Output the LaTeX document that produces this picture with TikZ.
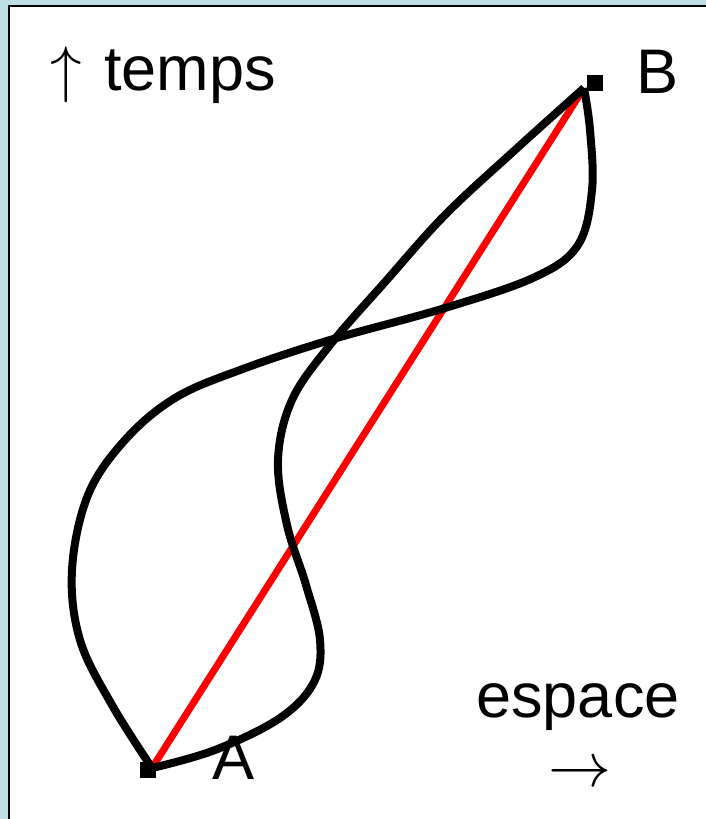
\RequirePackage{fix-cm}
\documentclass[tikz,border=0pt]{standalone}
\usepackage{fontspec}
\setmainfont{Liberation Sans}
\usepackage{tikz}
\usetikzlibrary{positioning, calc}
\definecolor{fondbleu}{RGB}{190,224,228}

\begin{document}
\begin{tikzpicture}[x=1pt, y=-1pt,
        etiquette/.style={font=\fontsize{63}{75}\selectfont, inner sep=0pt},
        point/.style={rectangle, fill=black, minimum size=16pt, inner sep=0pt},
        chemin/.style={draw=black, line width=8pt, line join=round},
        droite/.style={draw=red, line width=7pt}
    ]
        % Cadre de la diapositive
        \clip (0,0) rectangle (706,819);
        \fill [fondbleu] (0,0) rectangle (706,819);
        \draw [fill=white, line width=2pt] (9,6) rectangle (740,850);

        % Evenements A et B
        \node [point] (pA) at (148,770) {};
        \node [point] (pB) at (595,83) {};
        \coordinate (A) at (152,768);
        \coordinate (B) at (584,88);
        \node [etiquette, anchor=base west] (lA) at (212,779) {A};
        \node [etiquette, anchor=base west] (lB) at (636,93) {B};

        % Axes
        \node [etiquette, anchor=base west] (temps) at (50,90) {$\uparrow$\hspace{0.08em} temps};
        \node [etiquette, anchor=base] (espace) at (578,717) {espace};
        \node [etiquette, anchor=base] (fleche) at ($(espace.base)+(2,69)$) {$\smash{\rightarrow}$};

        % Ligne droite et chemins
        \draw [droite] (A) -- (B);
        \draw [chemin] plot [smooth, tension=0.6] coordinates {(A) (112,705) (80,640) (72,570) (88,495) (125,440) (175,398) (240,370) (330,340) (445,308) (535,277) (578,245) (592,190) (590,130) (B)};
        \draw [chemin] plot [smooth, tension=0.6] coordinates {(A) (215,750) (280,718) (314,682) (320,640) (306,585) (287,525) (278,460) (292,400) (330,345) (385,282) (445,215) (515,150) (B)};
    \end{tikzpicture}
\end{document}
